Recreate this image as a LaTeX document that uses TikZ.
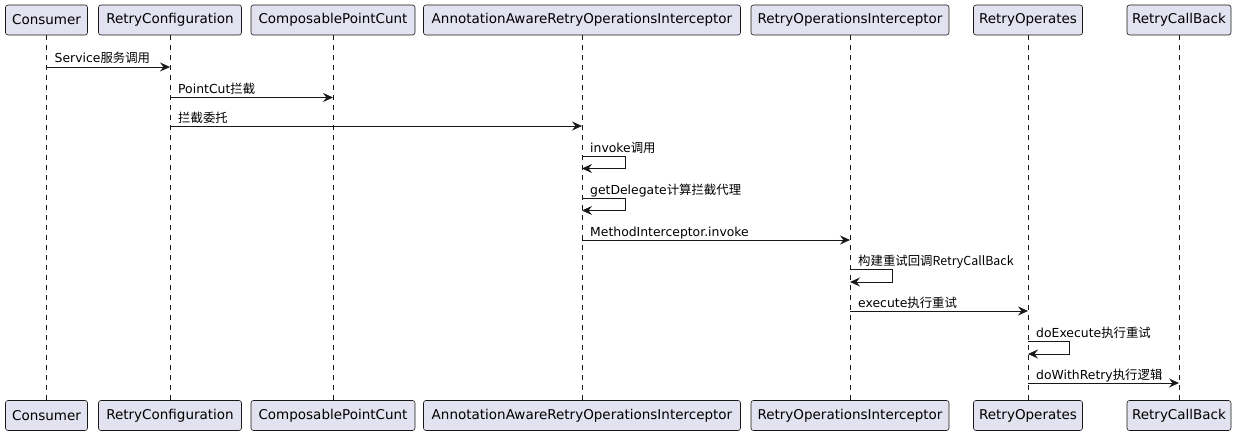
\documentclass[tikz,border=0pt]{standalone}
\usepackage{fontspec}
\setmainfont{DejaVu Sans}
\newfontfamily\cjk{Noto Sans CJK SC}
\usetikzlibrary{arrows.meta}
\definecolor{partfill}{HTML}{E2E2F0}
\definecolor{lineclr}{HTML}{181818}
\tikzset{
  part/.style={draw=lineclr, line width=0.6pt, fill=partfill, rounded corners=2.5pt,
    minimum height=30pt, inner sep=0pt, font=\fontsize{13.5}{16}\selectfont},
  lifeline/.style={draw=lineclr, line width=0.5pt, dash pattern=on 5pt off 5pt},
  msg/.style={draw=lineclr, line width=0.8pt, -{Stealth[length=10pt,width=9pt,inset=3.5pt]}},
  lbl/.style={anchor=base west, inner sep=0pt, font=\fontsize{12.4}{15}\selectfont}
}
\begin{document}
\begin{tikzpicture}[x=1pt,y=-1pt]
\useasboundingbox (0,0) rectangle (1237,436);
% lifeline x positions
\def\xa{46.5}\def\xb{170}\def\xc{333}\def\xd{582}\def\xe{850}\def\xf{1028}\def\xg{1179}
% top participants
\node[part, minimum width=82pt]  (a) at (\xa,20) {Consumer};
\node[part, minimum width=143pt] (b) at (\xb,20) {RetryConfiguration};
\node[part, minimum width=164pt] (c) at (\xc,20) {ComposablePointCunt};
\node[part, minimum width=317pt] (d) at (\xd,20) {AnnotationAwareRetryOperationsInterceptor};
\node[part, minimum width=198pt] (e) at (\xe,20) {RetryOperationsInterceptor};
\node[part, minimum width=109pt] (f) at (\xf,20) {RetryOperates};
\node[part, minimum width=104pt] (g) at (\xg,20) {RetryCallBack};
% bottom participants
\node[part, minimum width=82pt]  (a2) at (\xa,415.5) {Consumer};
\node[part, minimum width=143pt] (b2) at (\xb,415.5) {RetryConfiguration};
\node[part, minimum width=164pt] (c2) at (\xc,415.5) {ComposablePointCunt};
\node[part, minimum width=317pt] (d2) at (\xd,415.5) {AnnotationAwareRetryOperationsInterceptor};
\node[part, minimum width=198pt] (e2) at (\xe,415.5) {RetryOperationsInterceptor};
\node[part, minimum width=109pt] (f2) at (\xf,415.5) {RetryOperates};
\node[part, minimum width=104pt] (g2) at (\xg,415.5) {RetryCallBack};
% lifelines
\foreach \n in {a,b,c,d,e,f,g}{\draw[lifeline] (\n.south) -- (\n2.north);}
% messages
% 1
\coordinate (m1s) at (\xa,67); \coordinate (m1e) at (\xb,67);
\draw[msg] (m1s) -- (m1e);
\node[lbl] (l1) at (\xa+8,63) {Service\cjk{服务调用}};
% 2
\coordinate (m2s) at (\xb,97.5); \coordinate (m2e) at (\xc,97.5);
\draw[msg] (m2s) -- (m2e);
\node[lbl] (l2) at (\xb+8,93.5) {PointCut\cjk{拦截}};
% 3
\coordinate (m3s) at (\xb,126); \coordinate (m3e) at (\xd,126);
\draw[msg] (m3s) -- (m3e);
\node[lbl] (l3) at (\xb+8,122) {\cjk{拦截委托}};
% 4 self
\coordinate (m4s) at (\xd,156.5); \coordinate (m4e) at (\xd,168.5);
\draw[msg] (m4s) -- ++(43.5,0) |- (m4e);
\node[lbl] (l4) at (\xd+8,152.5) {invoke\cjk{调用}};
% 5 self
\coordinate (m5s) at (\xd,198.5); \coordinate (m5e) at (\xd,210.5);
\draw[msg] (m5s) -- ++(43.5,0) |- (m5e);
\node[lbl] (l5) at (\xd+8,194.5) {getDelegate\cjk{计算拦截代理}};
% 6
\coordinate (m6s) at (\xd,240); \coordinate (m6e) at (\xe,240);
\draw[msg] (m6s) -- (m6e);
\node[lbl] (l6) at (\xd+8,236) {MethodInterceptor.invoke};
% 7 self
\coordinate (m7s) at (\xe,269.5); \coordinate (m7e) at (\xe,282);
\draw[msg] (m7s) -- ++(42.5,0) |- (m7e);
\node[lbl] (l7) at (\xe+8,265.5) {\cjk{构建重试回调}RetryCallBack};
% 8
\coordinate (m8s) at (\xe,311); \coordinate (m8e) at (\xf,311);
\draw[msg] (m8s) -- (m8e);
\node[lbl] (l8) at (\xe+8,307) {execute\cjk{执行重试}};
% 9 self
\coordinate (m9s) at (\xf,341.5); \coordinate (m9e) at (\xf,354);
\draw[msg] (m9s) -- ++(41.5,0) |- (m9e);
\node[lbl] (l9) at (\xf+8,337.5) {doExecute\cjk{执行重试}};
% 10
\coordinate (m10s) at (\xf,383); \coordinate (m10e) at (\xg,383);
\draw[msg] (m10s) -- (m10e);
\node[lbl] (l10) at (\xf+8,379) {doWithRetry\cjk{执行逻辑}};
\end{tikzpicture}
\end{document}
